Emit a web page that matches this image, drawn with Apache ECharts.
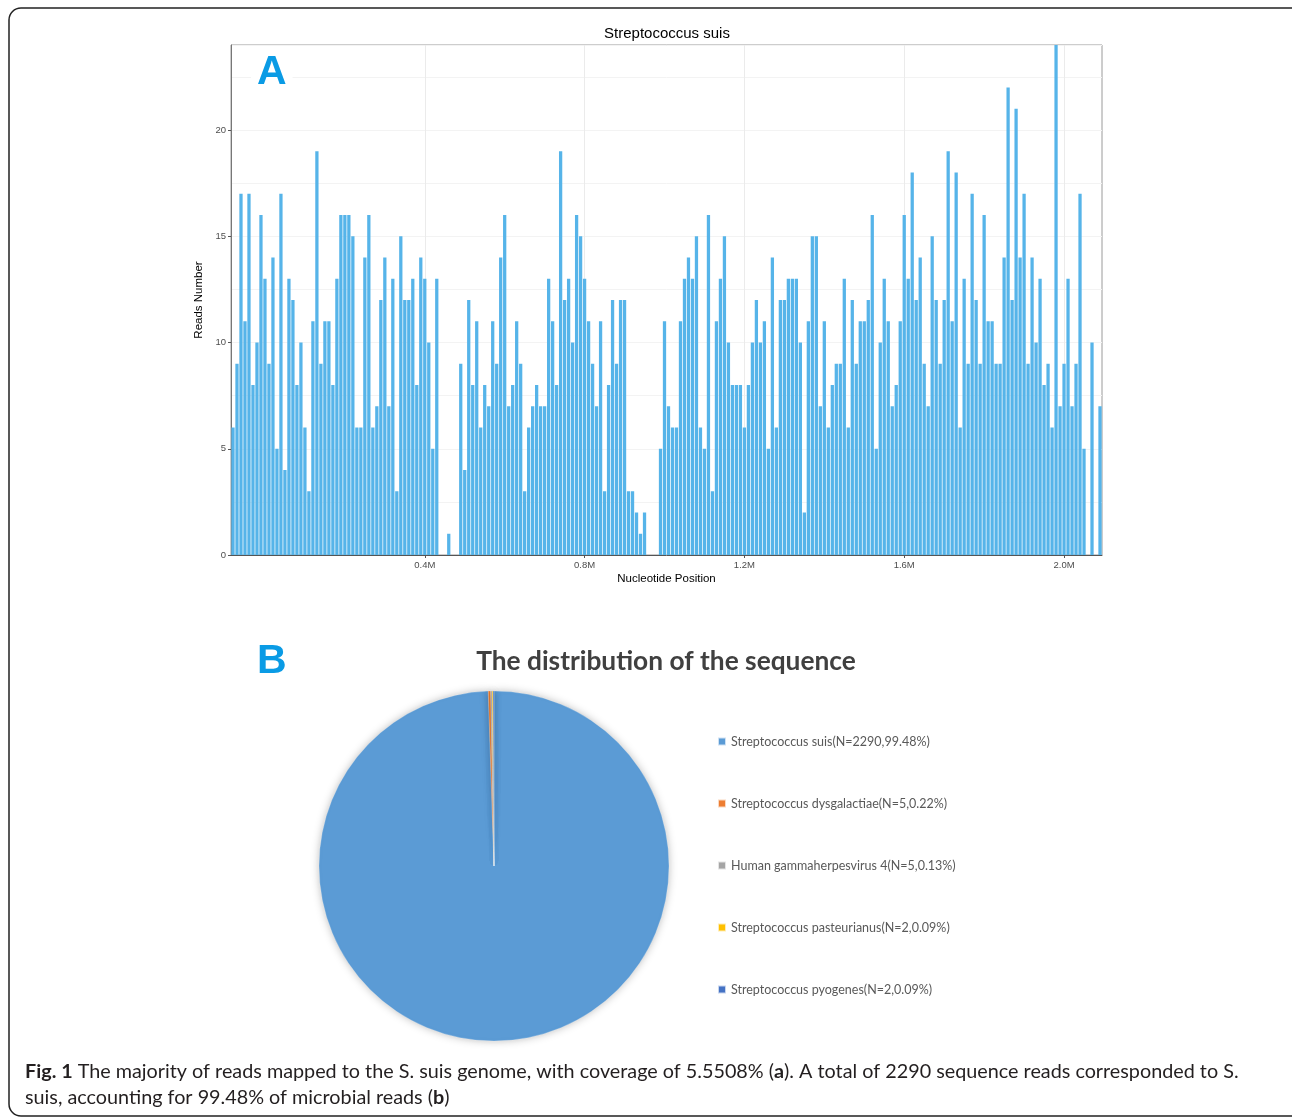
<!DOCTYPE html>
<html>
<head>
<meta charset="utf-8">
<style>
  html, body { margin: 0; padding: 0; background: #ffffff; }
  #chart { width: 1292px; height: 1117px; }
</style>
<script src="https://cdn.jsdelivr.net/npm/echarts@6/dist/echarts.min.js"></script>
</head>
<body>
<div id="chart"></div>
<script>
// ---------- Panel A data: reads per 10 kb bin ----------
const binStart = -80000;   // centre of the first bin
const binStep = 10000;     // bin width (nt)
const readsNumber = [
  6, 9, 17, 11, 17, 8, 10, 16, 13, 9,
  14, 5, 17, 4, 13, 12, 8, 10, 6, 3,
  11, 19, 9, 11, 11, 8, 13, 16, 16, 16,
  15, 6, 6, 14, 16, 6, 7, 12, 14, 7,
  13, 3, 15, 12, 12, 13, 8, 14, 13, 10,
  5, 13, 0, 0, 1, 0, 0, 9, 4, 12,
  8, 11, 6, 8, 7, 11, 9, 14, 16, 7,
  8, 11, 9, 3, 6, 7, 8, 7, 7, 13,
  11, 8, 19, 12, 13, 10, 16, 15, 13, 11,
  9, 7, 11, 3, 8, 12, 9, 12, 12, 3,
  3, 2, 1, 2, 0, 0, 0, 5, 11, 7,
  6, 6, 11, 13, 14, 13, 15, 6, 5, 16,
  3, 11, 13, 15, 10, 8, 8, 8, 6, 8,
  10, 12, 10, 11, 5, 14, 6, 12, 12, 13,
  13, 13, 10, 2, 11, 15, 15, 7, 11, 6,
  8, 9, 9, 13, 6, 12, 9, 11, 11, 12,
  16, 5, 10, 13, 11, 7, 8, 11, 16, 13,
  18, 12, 14, 9, 7, 15, 12, 9, 12, 19,
  11, 18, 6, 13, 9, 17, 12, 9, 16, 11,
  11, 9, 9, 14, 22, 12, 21, 14, 17, 9,
  14, 10, 13, 8, 9, 6, 24, 7, 9, 13,
  7, 9, 17, 5, 0, 10, 0, 7
];
const xTickValues = [400000, 800000, 1200000, 1600000, 2000000];
const yTickValues = [0, 5, 10, 15, 20];

// ---------- Panel B data ----------
const pieNames = ['Streptococcus suis', 'Streptococcus dysgalactiae', 'Human gammaherpesvirus 4', 'Streptococcus pasteurianus', 'Streptococcus pyogenes'];
const pieValues = [2290, 5, 3, 2, 2];
const pieLabelN = [2290, 5, 5, 2, 2];
const piePercent = ['99.48%', '0.22%', '0.13%', '0.09%', '0.09%'];
const pieColors = ['#5B9BD5', '#ED7D31', '#A5A5A5', '#FFC000', '#4472C4'];

const barData = readsNumber.map((v, i) => [binStart + i * binStep, v]);
const pieLabels = pieNames.map((n, i) => n + '(N=' + pieLabelN[i] + ',' + piePercent[i] + ')');
const pieData = pieValues.map((v, i) => ({ name: pieLabels[i], value: v, itemStyle: { color: pieColors[i] } }));

const chart = echarts.init(document.getElementById('chart'), null, { renderer: 'canvas' });

const sansA = 'Liberation Sans, Arial, sans-serif';

const option = {
  animation: false,
  backgroundColor: '#ffffff',
  title: [
    {
      text: 'Streptococcus suis',
      left: 662, top: 21, textAlign: 'center',
      textStyle: { fontFamily: sansA, fontSize: 15, fontWeight: 'normal', color: '#000' }
    },
    {
      text: 'The distribution of the sequence',
      left: 661, top: 644, textAlign: 'center',
      textStyle: { fontFamily: 'Lato, sans-serif', fontSize: 26.3, fontWeight: 'bold', color: '#404040' }
    }
  ],
  grid: {
    left: 231, top: 45, width: 871, height: 510,
    show: true, borderColor: '#9a9a9a', borderWidth: 1, backgroundColor: 'transparent'
  },
  xAxis: {
    type: 'value', min: -85000, max: 2095000,
    name: 'Nucleotide Position', nameLocation: 'middle', nameGap: 18,
    nameTextStyle: { fontFamily: sansA, fontSize: 11.5, color: '#000' },
    axisLine: { show: true, onZero: false, lineStyle: { color: '#555', width: 1 } },
    axisTick: { show: true, length: 3, customValues: xTickValues, lineStyle: { color: '#555' } },
    axisLabel: {
      customValues: xTickValues, fontFamily: sansA, fontSize: 9.5, color: '#4d4d4d', margin: 5,
      formatter: v => (v / 1e6).toFixed(1) + 'M'
    },
    splitLine: { show: true, lineStyle: { color: '#ebebeb', width: 1 } }
  },
  yAxis: [
    {
      type: 'value', min: 0, max: 24, interval: 5,
      name: 'Reads Number', nameLocation: 'middle', nameGap: 17, nameRotate: 90,
      nameTextStyle: { fontFamily: sansA, fontSize: 11.5, color: '#000' },
      axisLine: { show: true, onZero: false, lineStyle: { color: '#777', width: 1 } },
      axisTick: { show: true, length: 3, lineStyle: { color: '#555' } },
      axisLabel: { fontFamily: sansA, fontSize: 9.5, color: '#4d4d4d', margin: 5, showMaxLabel: false },
      splitLine: { show: true, lineStyle: { color: '#ebebeb', width: 1 } }
    },
    {
      type: 'value', min: 0, max: 24, interval: 2.5, position: 'right',
      axisLine: { show: false }, axisTick: { show: false }, axisLabel: { show: false },
      splitLine: { show: true, lineStyle: { color: '#f3f3f3', width: 1 } }
    }
  ],
  legend: {
    orient: 'vertical', left: 717, top: 735, padding: 0,
    itemWidth: 8, itemHeight: 8, itemGap: 49, icon: 'rect',
    selectedMode: false,
    textStyle: { fontFamily: 'Lato, sans-serif', fontSize: 12.5, color: '#595959' },
    data: pieLabels
  },
  series: [
    {
      type: 'bar', xAxisIndex: 0, yAxisIndex: 0,
      data: barData, barWidth: '82%',
      itemStyle: { color: '#56B4E9' },
      silent: true, z: 3
    },
    {
      type: 'pie', center: [494, 866], radius: 175,
      startAngle: 90, clockwise: true,
      label: { show: false }, labelLine: { show: false },
      itemStyle: { borderColor: 'rgba(255,255,255,0.7)', borderWidth: 0.3, shadowBlur: 8, shadowColor: 'rgba(0,0,0,0.25)' },
      emphasis: { disabled: true },
      data: pieData, silent: true
    }
  ],
  graphic: [
    {
      type: 'rect', silent: true,
      shape: { x: 9, y: 8, width: 1300, height: 1108, r: 12 },
      style: { fill: 'none', stroke: '#222', lineWidth: 1.5 }, z: 100
    },
    {
      type: 'text', left: 251, top: 52, z: 100,
      style: {
        text: 'A', fill: '#0A9BE5', font: 'bold 41px Liberation Sans, Arial, sans-serif',
        backgroundColor: '#ffffff', padding: [0, 6]
      }
    },
    {
      type: 'text', left: 257, top: 641, z: 100,
      style: { text: 'B', fill: '#0A9BE5', font: 'bold 41px Liberation Sans, Arial, sans-serif' }
    },
    {
      type: 'text', left: 25, top: 1059, z: 100,
      style: {
        text: '{b|Fig. 1} The majority of reads mapped to the S. suis genome, with coverage of 5.5508% ({b|a}). A total of 2290 sequence reads corresponded to S.\nsuis, accounting for 99.48% of microbial reads ({b|b})',
        font: '19.8px Lato, sans-serif', fill: '#231f20', lineHeight: 26,
        rich: {
          b: { font: 'bold 19.8px Lato, sans-serif', fill: '#231f20', lineHeight: 26 }
        }
      }
    }
  ]
};

chart.setOption(option);
</script>
</body>
</html>
